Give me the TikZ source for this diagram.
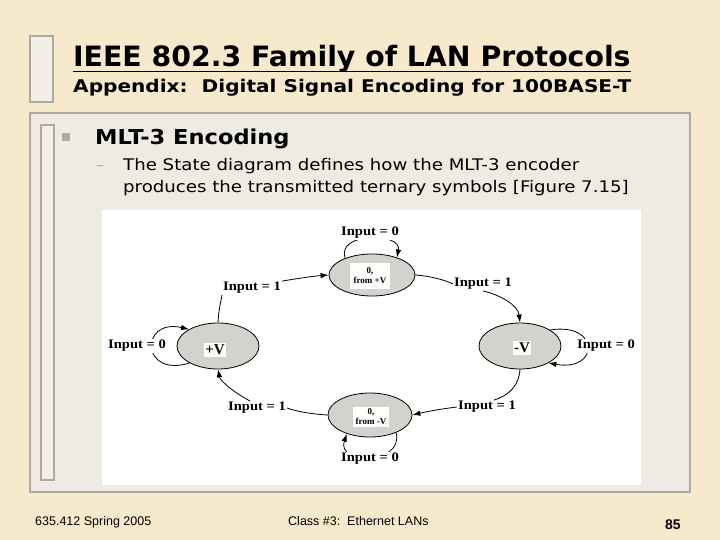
\documentclass[tikz,border=0pt]{standalone}
\usepackage{fontspec}
\setmainfont{DejaVu Sans}
\newfontfamily\tms{Liberation Serif}
\newfontfamily\arl{Liberation Sans}
\usetikzlibrary{shapes.geometric,arrows.meta}
\definecolor{bgc}{RGB}{247,234,204}
\definecolor{panelc}{RGB}{238,235,226}
\definecolor{panelb}{RGB}{172,169,160}
\definecolor{barc}{RGB}{242,239,230}
\definecolor{ellc}{RGB}{210,211,204}
\definecolor{bulc}{RGB}{172,172,172}
\newcommand{\wx}[2]{\scalebox{#1}[1]{#2}}
\tikzset{
  stnode/.style={ellipse,draw=black,line width=0.8pt,fill=ellc,inner sep=0pt},
  inbox/.style={fill=white,inner sep=1pt,align=center,font=\tms\bfseries\fontsize{9}{10}\selectfont},
  vbox/.style={fill=white,inner sep=1.5pt,font=\tms\bfseries\fontsize{15}{16}\selectfont},
  lbl/.style={fill=white,inner sep=1pt,font=\tms\bfseries\fontsize{13}{14}\selectfont},
  conn/.style={line width=0.8pt},
  arr/.style={line width=0.8pt,-{Latex[length=8pt,width=5.5pt]}},
  txt/.style={inner sep=0pt,anchor=base west}
}
\begin{document}
\begin{tikzpicture}[x=1pt,y=-1pt]
\fill[bgc] (0,0) rectangle (720,540);
\useasboundingbox (0,0) rectangle (720,540);
% title bar
\draw[panelb,line width=1.5pt,fill=barc] (30,36) rectangle (53,102);
\node[txt,font=\bfseries\fontsize{28}{32}\selectfont] (title) at (73,67) {\wx{1.012}{IEEE 802.3 Family of LAN Protocols}};
\draw[line width=1.8pt] ([yshift=-4.5pt]title.base west) -- ([yshift=-4.5pt]title.base east);
\node[txt,font=\bfseries\fontsize{17.5}{20}\selectfont] (sub) at (73,93) {\wx{1.148}{Appendix:\ \ Digital Signal Encoding for 100BASE-T}};
% panel
\draw[panelb,line width=1.6pt,fill=panelc] (30,113) rectangle (690,492);
\draw[panelb,line width=1.4pt,fill=barc] (41,125) rectangle (54,480);
\fill[bulc] (62,133) rectangle (70,141);
\node[txt,font=\bfseries\fontsize{20.5}{24}\selectfont] (head) at (95,145) {\wx{1.1}{MLT-3 Encoding}};
\node[txt,font=\fontsize{16}{19}\selectfont,text=bulc] (dash) at (96,171) {–};
\node[txt,font=\fontsize{16}{19}\selectfont] (l1) at (123,171) {\wx{1.135}{The State diagram defines how the MLT-3 encoder}};
\node[txt,font=\fontsize{16}{19}\selectfont] (l2) at (123,193) {\wx{1.135}{produces the transmitted ternary symbols [Figure 7.15]}};
% figure area
\fill[white] (102,210) rectangle (641,485);
% states
\node[stnode,minimum width=86pt,minimum height=42pt] (top) at (372,275) {};
\node[stnode,minimum width=82pt,minimum height=46pt] (pv) at (218,346) {};
\node[stnode,minimum width=82pt,minimum height=46pt] (mv) at (520,346) {};
\node[stnode,minimum width=84pt,minimum height=44pt] (bot) at (370,415) {};
\node[inbox,minimum width=40pt,minimum height=26pt] (topt) at (370,276) {0,\\from +V};
\node[vbox] (pvt) at (215,350) {+V};
\node[vbox] (mvt) at (522,348) {-V};
\node[inbox,minimum width=36pt,minimum height=20pt] (bott) at (371,417) {0,\\from -V};
% labels on transitions
\node[lbl] (ltl) at (252,288) {\wx{1.12}{Input = 1}};
\node[lbl] (ltr) at (483,284) {\wx{1.12}{Input = 1}};
\node[lbl] (lbl1) at (257,408) {\wx{1.12}{Input = 1}};
\node[lbl] (lbr) at (487,407) {\wx{1.12}{Input = 1}};
% transitions
\draw[conn] (pv.north) .. controls (219,305) and (222,298) .. (ltl.south west);
\draw[arr] (ltl.north east) .. controls (300,278) and (315,276) .. (top.west);
\draw[conn] (top.east) .. controls (430,276) and (445,280) .. (ltr.west);
\draw[arr] (ltr.south) .. controls (500,295) and (518,305) .. (mv.north);
\draw[conn] (mv.south) .. controls (519,385) and (510,395) .. (lbr.45);
\draw[arr] (lbr.west) .. controls (440,409) and (425,412) .. (bot.east);
\draw[conn] (bot.west) .. controls (310,414) and (295,411) .. (lbl1.east);
\draw[arr] (lbl1.135) .. controls (230,390) and (220,380) .. (pv.south);
% self loops
\draw[arr] (top.148) .. controls (336,232) and (402,232) .. (top.35);
\draw[arr] (mv.28) .. controls (600,322) and (600,372) .. (mv.-31);
\draw[arr] (bot.-34) .. controls (404,465) and (336,465) .. (bot.-141);
\draw[arr] (pv.211) .. controls (140,378) and (140,318) .. (pv.150);
\node[lbl] (lt0) at (370,233) {\wx{1.12}{Input = 0}};
\node[lbl] (lr0) at (606,346) {\wx{1.12}{Input = 0}};
\node[lbl] (lb0) at (370,459) {\wx{1.12}{Input = 0}};
\node[lbl] (ll0) at (137,346) {\wx{1.12}{Input = 0}};
% footer
\node[txt,font=\arl\fontsize{12.5}{14}\selectfont] (f1) at (35,525) {635.412 Spring 2005};
\node[txt,font=\arl\fontsize{12.5}{14}\selectfont] (f2) at (288,525) {Class \#3:\ \ Ethernet LANs};
\node[txt,font=\arl\bfseries\fontsize{14}{16}\selectfont] (f3) at (665,529) {85};
\end{tikzpicture}
\end{document}
